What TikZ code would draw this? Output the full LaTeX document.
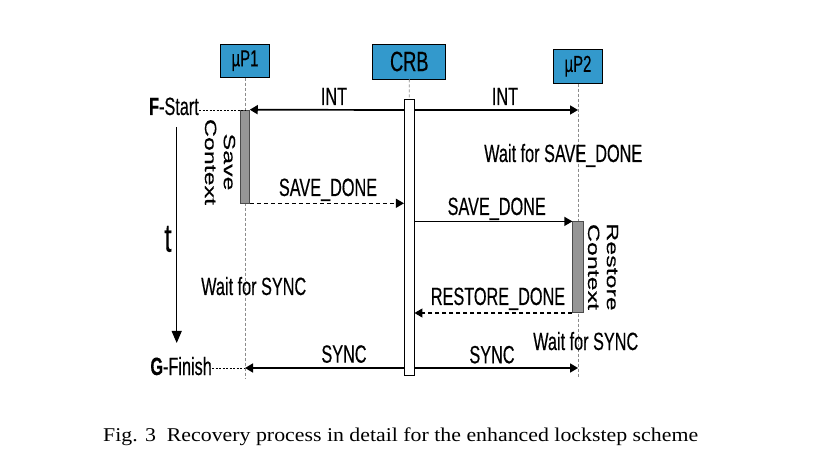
\documentclass[tikz,border=0pt]{standalone}
\usepackage{fontspec}
\usetikzlibrary{arrows.meta}
\newfontfamily\narrowsf[FakeStretch=0.65,FakeBold=0.35]{Liberation Sans}
\newfontfamily\plainsf[FakeBold=0.35]{Liberation Sans}
\newfontfamily\capfont[FakeStretch=1.12]{Liberation Serif}
\definecolor{unitblue}{RGB}{51,153,204}
\definecolor{barfill}{RGB}{150,150,150}

\tikzset{
  unit/.style={draw=black,fill=unitblue,line width=0.8pt,inner sep=0pt},
  bar/.style={draw=black!70,fill=barfill,line width=0.6pt,inner sep=0pt,minimum width=9.5},
  life/.style={draw=black!45,line width=0.9pt,dash pattern=on 3pt off 2pt},
  msg/.style={line width=1.2pt,-{Triangle[length=8,width=9]}},
  bigmsg/.style={msg,line width=1.7pt},
  donemsg/.style={msg,dash pattern=on 4pt off 3pt},
  lbl/.style={font=\narrowsf\fontsize{25}{27}\selectfont,inner sep=0pt,anchor=base},
  vlbl/.style={font=\plainsf\fontsize{25}{29}\selectfont,align=center,inner sep=0pt,
    xscale=0.65,rotate=-90}
}

\begin{document}
\begin{tikzpicture}[x=1pt,y=-1pt]
  \useasboundingbox (0,0) rectangle (830,454);

  % Units
  \node[unit,minimum width=49,minimum height=33,font=\narrowsf\fontsize{23}{25}\selectfont]
        (p1) at (245,60.7) {µP1};
  \node[unit,minimum width=73,minimum height=35,font=\narrowsf\fontsize{28}{30}\selectfont]
        (crb) at (409.3,61.5) {CRB};
  \node[unit,minimum width=49,minimum height=34,font=\narrowsf\fontsize{23}{25}\selectfont]
        (p2) at (578,66.2) {µP2};

  % Lifelines
  \coordinate (p1end) at (245,378);
  \coordinate (p2end) at (578,378);
  \draw[life] (p1.south) -- (p1end);
  \draw[life] (p2.south) -- (p2end);

  % Activity bars
  \node[bar,minimum height=93] (save) at (244.7,156.5) {};
  \node[draw=black,fill=white,line width=0.8pt,inner sep=0pt,minimum width=9.7,
        minimum height=276] (crbbar) at (409.2,237.2) {};
  \node[bar,minimum height=91,minimum width=10.6] (restore) at (578,267.2) {};
  \draw[life] (crb.south) -- (crbbar.north);

  % Time axis
  \node[font=\narrowsf\fontsize{40}{42}\selectfont,inner sep=0pt,anchor=base]
        (t) at (168,251.7) {t};
  \coordinate (tstart) at (176.7,127);
  \coordinate (tend) at (176.7,343);
  \draw[line width=1pt,-{Triangle[length=12,width=10]}] (tstart) -- (tend);

  % Start and finish marks
  \node[lbl,anchor=base east] (fstart) at (199,115) {\textbf{F}-Start};
  \node[lbl,anchor=base east] (gfinish) at (212,375) {\textbf{G}-Finish};
  \coordinate (p1start) at (245,110);
  \coordinate (p1finish) at (245,368);
  \draw[line width=0.9pt,dash pattern=on 2pt off 1.5pt] (fstart.east |- p1start) -- (p1start);
  \draw[line width=0.9pt,dash pattern=on 2pt off 1.5pt] (gfinish.east |- p1finish) -- (p1finish);

  % ---- Messages ----
  % INT
  \draw[bigmsg] (crbbar.west |- p1start) -- (save.north east);
  \draw[bigmsg] (crbbar.east |- p1start) -- (p2end |- p1start);
  \node[lbl] (int1) at (334,105) {INT};
  \node[lbl] (int2) at (505,105) {INT};

  % SAVE_DONE
  \draw[donemsg] (save.south east) -- (crbbar.west |- save.south);
  \node[lbl] (sd1) at (328,196) {SAVE\_DONE};
  \draw[msg] (crbbar.east |- restore.north) -- (restore.north west);
  \node[lbl] (sd2) at (496.7,215) {SAVE\_DONE};

  % RESTORE_DONE
  \draw[donemsg] (restore.south west) -- (crbbar.east |- restore.south);
  \node[lbl] (rd) at (498,305) {RESTORE\_DONE};

  % SYNC
  \draw[bigmsg] (crbbar.west |- p1finish) -- (p1finish);
  \draw[bigmsg] (crbbar.east |- p1finish) -- (p2end |- p1finish);
  \node[lbl] (sync1) at (344,362.7) {SYNC};
  \node[lbl] (sync2) at (492,363.3) {SYNC};

  % Context labels
  \node[vlbl] (savectx) at (220,162) {Save\\Context};
  \node[vlbl] (restctx) at (603,267) {Restore\\Context};

  % Waiting notes
  \node[lbl,anchor=base west] (w1) at (484,162) {Wait for SAVE\_DONE};
  \node[lbl,anchor=base west] (w2) at (201,295) {Wait for SYNC};
  \node[lbl,anchor=base west] (w3) at (533,350) {Wait for SYNC};

  % Caption
  \node[font=\capfont\fontsize{19.5}{22}\selectfont,inner sep=0pt,anchor=base west]
        (cap) at (103,441) {Fig. 3\ \ Recovery process in detail for the enhanced lockstep scheme};
\end{tikzpicture}
\end{document}
